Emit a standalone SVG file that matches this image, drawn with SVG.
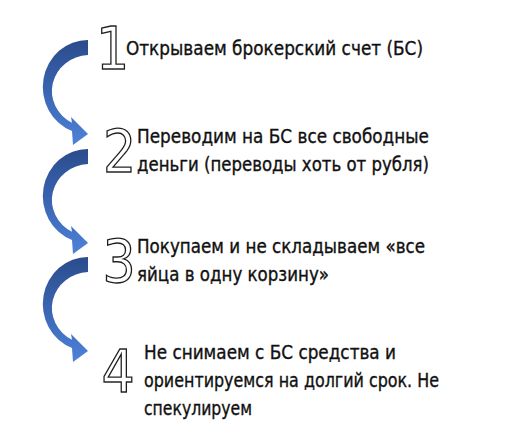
<svg xmlns="http://www.w3.org/2000/svg" width="509" height="448" viewBox="0 0 509 448">
  <defs>
    <linearGradient id="arrowGrad" x1="0" y1="0" x2="0" y2="1">
      <stop offset="0" stop-color="#2B4C8C"/>
      <stop offset="0.5" stop-color="#3A65B2"/>
      <stop offset="1" stop-color="#4E82D9"/>
    </linearGradient>
    <path id="curvedArrow" d="M 0 0 A 45 47 0 0 0 -16 91 L -15 105 L 0 94 L -17 77 L -16 82.7 A 38 36 0 0 1 0 15 Z"/>
  </defs>
  <style>
    .txt { font-family: "Liberation Sans Narrow", "DejaVu Sans Condensed", "Roboto Condensed", "Liberation Sans", sans-serif; font-stretch: condensed; font-size: 20px; fill: #111111; stroke: #111111; stroke-width: 0.35; }
    .num { font-family: "Liberation Sans Narrow", "DejaVu Sans Condensed", "Liberation Sans", sans-serif; font-stretch: condensed; font-size: 58px; fill: #ffffff; stroke: #1e1e1e; stroke-width: 1.3; text-anchor: middle; }
    .arrow { fill: url(#arrowGrad); }
  </style>
  <rect width="509" height="448" fill="#ffffff"/>

  <g id="connectors">
    <use href="#curvedArrow" class="arrow" transform="translate(88,40)"/>
    <use href="#curvedArrow" class="arrow" transform="translate(88,149)"/>
    <use href="#curvedArrow" class="arrow" transform="translate(88,257)"/>
  </g>

  <g id="step1">
    <text class="num" x="112.5" y="69">1</text>
    <text class="txt" x="126" y="55" textLength="297" lengthAdjust="spacingAndGlyphs">Открываем брокерский счет (БС)</text>
  </g>

  <g id="step2">
    <text class="num" x="119.5" y="172">2</text>
    <text class="txt" x="137" y="143" textLength="292" lengthAdjust="spacingAndGlyphs">Переводим на БС все свободные</text>
    <text class="txt" x="137" y="171" textLength="292" lengthAdjust="spacingAndGlyphs">деньги (переводы хоть от рубля)</text>
  </g>

  <g id="step3">
    <text class="num" x="119" y="282">3</text>
    <text class="txt" x="137" y="253" textLength="288" lengthAdjust="spacingAndGlyphs">Покупаем и не складываем «все</text>
    <text class="txt" x="137" y="281" textLength="192" lengthAdjust="spacingAndGlyphs">яйца в одну корзину»</text>
  </g>

  <g id="step4">
    <text class="num" x="118" y="392">4</text>
    <text class="txt" x="144" y="359" textLength="252" lengthAdjust="spacingAndGlyphs">Не снимаем с БС средства и</text>
    <text class="txt" x="144" y="387" textLength="295" lengthAdjust="spacingAndGlyphs">ориентируемся на долгий срок. Не</text>
    <text class="txt" x="144" y="415" textLength="108" lengthAdjust="spacingAndGlyphs">спекулируем</text>
  </g>
</svg>
